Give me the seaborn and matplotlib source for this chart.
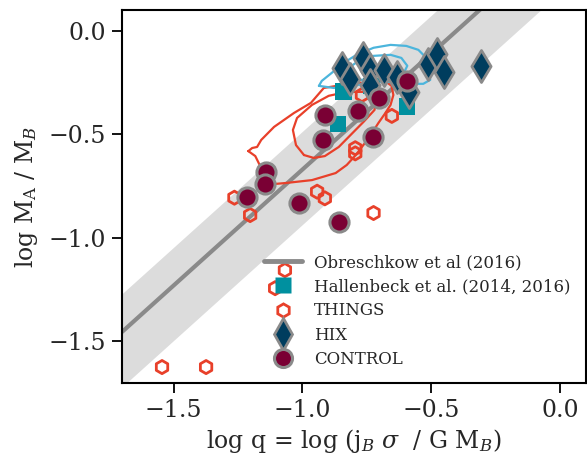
import numpy as np
import pandas as pd
import matplotlib
matplotlib.use("Agg")
import matplotlib.pyplot as plt
import seaborn as sns
from matplotlib.lines import Line2D

# --- data ---------------------------------------------------------------
control_logq = [-0.593, -0.701, -0.786, -0.913, -0.728, -0.921, -1.141, -1.145, -1.214, -1.014, -0.859]
control_logf = [-0.242, -0.324, -0.387, -0.406, -0.513, -0.527, -0.682, -0.740, -0.803, -0.832, -0.924]

hix_logq = [-0.846, -0.817, -0.764, -0.739, -0.683, -0.634, -0.737, -0.587, -0.512, -0.477, -0.452, -0.308]
hix_logf = [-0.181, -0.232, -0.133, -0.191, -0.191, -0.225, -0.261, -0.295, -0.162, -0.114, -0.197, -0.171]

hallenbeck_logq = [-0.840, -0.595, -0.863, -0.732]
hallenbeck_logf = [-0.294, -0.366, -0.450, -0.266]

things_logq = [-1.545, -1.374, -1.264, -1.203, -0.943, -0.913, -0.724, -0.795, -0.795,
               -0.653, -0.769, -1.068, -1.106]
things_logf = [-1.624, -1.624, -0.806, -0.890, -0.777, -0.809, -0.880, -0.567, -0.592,
               -0.411, -0.310, -1.156, -1.243]

# Obreschkow et al. (2016) relation: log f = a + b log q, with scatter band
obr_intercept = 0.45
obr_slope = 1.12
band_up = 0.18
band_down = 0.27

# density contours of the comparison samples
red_outer_x = [-1.210, -1.195, -1.176, -1.160, -1.110, -1.033, -0.967, -0.917, -0.867, -0.801,
               -0.743, -0.685, -0.654, -0.647, -0.658, -0.678, -0.705, -0.743, -0.793, -0.828,
               -0.871, -0.963, -1.064, -1.110, -1.145, -1.164, -1.183, -1.210]
red_outer_y = [-0.581, -0.566, -0.561, -0.527, -0.464, -0.397, -0.348, -0.276, -0.266, -0.256,
               -0.247, -0.237, -0.266, -0.310, -0.358, -0.397, -0.445, -0.518, -0.600, -0.648,
               -0.687, -0.721, -0.735, -0.740, -0.711, -0.653, -0.605, -0.581]
red_inner_x = [-0.994, -1.025, -1.037, -1.021, -0.963, -0.898, -0.828, -0.763, -0.716, -0.720,
               -0.763, -0.813, -0.859, -0.913, -0.956, -0.994]
red_inner_y = [-0.600, -0.552, -0.479, -0.421, -0.358, -0.314, -0.295, -0.295, -0.324, -0.382,
               -0.440, -0.503, -0.561, -0.605, -0.614, -0.600]
blue_outer_x = [-0.936, -0.925, -0.886, -0.840, -0.790, -0.724, -0.658, -0.597, -0.550, -0.523,
                -0.512, -0.504, -0.531, -0.589, -0.647, -0.705, -0.763, -0.820, -0.878, -0.936]
blue_outer_y = [-0.266, -0.242, -0.203, -0.155, -0.116, -0.082, -0.068, -0.073, -0.092, -0.126,
                -0.179, -0.237, -0.256, -0.256, -0.247, -0.247, -0.256, -0.271, -0.276, -0.266]
blue_inner_x = [-0.859, -0.820, -0.782, -0.724, -0.658, -0.616, -0.593, -0.608, -0.647, -0.705,
                -0.763, -0.820, -0.859]
blue_inner_y = [-0.227, -0.179, -0.145, -0.121, -0.116, -0.131, -0.169, -0.208, -0.227, -0.232,
                -0.237, -0.237, -0.227]

x_ticks = [-1.5, -1.0, -0.5, 0.0]
y_ticks = [-1.5, -1.0, -0.5, 0.0]

# --- style --------------------------------------------------------------
sns.set_theme(style="ticks")
plt.rcParams["font.family"] = ["DejaVu Serif"]
plt.rcParams["mathtext.fontset"] = "dejavuserif"

C_CONTROL = "#7a0034"
C_HIX = "#003d5e"
C_HALL = "#00909f"
C_THINGS = "#e8402a"
C_EDGE = "#8a8a8a"
C_LINE = "#8a8a8a"
C_BAND = "#dcdcdc"
C_BLUE = "#4cb5dc"

fig = plt.figure(figsize=(5.87, 4.59), dpi=100)
ax = fig.add_axes([0.208, 0.166, 0.790, 0.812])

xlim = (-1.7, 0.1)
ylim = (-1.7, 0.1)

xs = np.array([xlim[0], xlim[1]])
line_df = pd.DataFrame({"logq": xs, "logf": obr_intercept + obr_slope * xs})
ax.fill_between(xs, line_df["logf"] - band_down, line_df["logf"] + band_up,
                color=C_BAND, lw=0, zorder=0)
sns.lineplot(data=line_df, x="logq", y="logf", ax=ax, color=C_LINE, lw=3.0, zorder=1)

# contours
ax.plot(red_outer_x, red_outer_y, color=C_THINGS, lw=1.6, zorder=2)
ax.plot(red_inner_x, red_inner_y, color=C_THINGS, lw=1.6, zorder=2)
ax.plot(blue_outer_x, blue_outer_y, color=C_BLUE, lw=1.6, zorder=2)
ax.plot(blue_inner_x, blue_inner_y, color=C_BLUE, lw=1.6, zorder=2)

things = pd.DataFrame({"logq": things_logq, "logf": things_logf})
hall = pd.DataFrame({"logq": hallenbeck_logq, "logf": hallenbeck_logf})
hix = pd.DataFrame({"logq": hix_logq, "logf": hix_logf})
ctrl = pd.DataFrame({"logq": control_logq, "logf": control_logf})

sns.scatterplot(data=things, x="logq", y="logf", ax=ax, marker="h", s=90,
                facecolor="none", edgecolor=C_THINGS, linewidth=2.0, zorder=3)
sns.scatterplot(data=hall, x="logq", y="logf", ax=ax, marker="s", s=140,
                color=C_HALL, edgecolor="none", linewidth=0, zorder=4)
sns.scatterplot(data=hix, x="logq", y="logf", ax=ax, marker="d", s=265,
                color=C_HIX, edgecolor=C_EDGE, linewidth=2.0, zorder=5)
sns.scatterplot(data=ctrl, x="logq", y="logf", ax=ax, marker="o", s=190,
                color=C_CONTROL, edgecolor=C_EDGE, linewidth=2.2, zorder=6)

ax.set_xlim(*xlim)
ax.set_ylim(*ylim)
ax.set_xticks(x_ticks)
ax.set_yticks(y_ticks)
ax.tick_params(labelsize=17, length=7, width=1.3, pad=4.5, color="black", direction="out")
for sp in ax.spines.values():
    sp.set_color("black")
    sp.set_linewidth(1.5)

ax.set_xlabel(r"log q = log (j$_B$ $\sigma$  / G M$_B$)", fontsize=17, labelpad=4)
ax.set_ylabel(r"log M$_\mathrm{A}$ / M$_B$", fontsize=17, labelpad=6)

handles = [
    Line2D([], [], color=C_LINE, lw=3.5),
    Line2D([], [], marker="s", ls="none", ms=11.5, color=C_HALL, mec="none"),
    Line2D([], [], marker="h", ls="none", ms=9.5, mfc="none", mec=C_THINGS, mew=2.0),
    Line2D([], [], marker="d", ls="none", ms=16, color=C_HIX, mec=C_EDGE, mew=2.0),
    Line2D([], [], marker="o", ls="none", ms=13, color=C_CONTROL, mec=C_EDGE, mew=2.2),
]
labels = ["Obreschkow et al (2016)", "Hallenbeck et al. (2014, 2016)",
          "THINGS", "HIX", "CONTROL"]
ax.legend(handles, labels, loc="lower right", bbox_to_anchor=(1.0, 0.0),
          frameon=False, fontsize=12, handlelength=2.28, labelspacing=0.43,
          borderaxespad=0.5, handletextpad=0.72)

fig.savefig("out.png", dpi=100)
